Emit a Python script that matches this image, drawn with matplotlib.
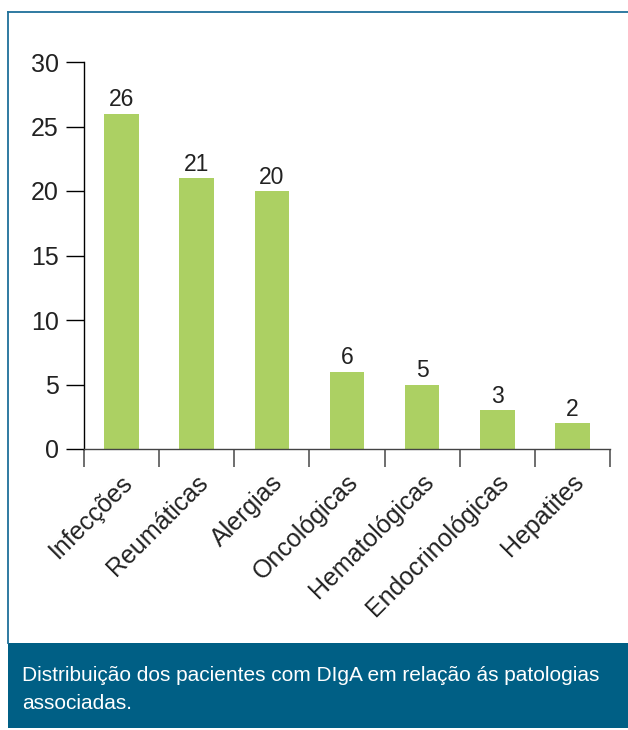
import matplotlib
matplotlib.use('Agg')

import matplotlib.pyplot as plt
import matplotlib.transforms as mtransforms
from matplotlib.patches import Rectangle
import numpy as np

categories = ['Infecções', 'Reumáticas', 'Alergias', 'Oncológicas',
              'Hematológicas', 'Endocrinológicas', 'Hepatites']
values = [26, 21, 20, 6, 5, 3, 2]
yticks = [0, 5, 10, 15, 20, 25, 30]
caption = ('Distribuição dos pacientes com DIgA em relação ás patologias\n'
           'associadas.')

bar_color = '#acd063'
frame_color = '#1f709a'
box_color = '#005f85'

plt.rcParams['font.family'] = ['Liberation Sans', 'DejaVu Sans']

W, H = 628, 730
fig = plt.figure(figsize=(W / 100, H / 100), dpi=100)

# outer frame (top and left edges) and caption box
fig.add_artist(plt.Line2D([8 / W, 8 / W], [1 - 643 / H, 1 - 12 / H],
                          color=frame_color, lw=1.3))
fig.add_artist(plt.Line2D([8 / W, 1], [1 - 12 / H, 1 - 12 / H],
                          color=frame_color, lw=1.3))
fig.add_artist(Rectangle((8 / W, 1 - 728 / H), 1 - 8 / W, 85 / H,
                         transform=fig.transFigure, color=box_color, lw=0))
fig.text(22 / W, 1 - 666 / H, caption, color='white', fontsize=15,
         va='top', ha='left', linespacing=1.6)

ax = fig.add_axes([84 / W, 1 - 449 / H, 526 / W, 387 / H])
x = np.arange(len(categories))
ax.bar(x, values, width=0.46, color=bar_color)

for xi, v in zip(x, values):
    ax.annotate(str(v), (xi, v), xytext=(0, 1.8), textcoords='offset points',
                ha='center', va='bottom', fontsize=16.5, color='#222222')

ax.set_xlim(-0.5, len(categories) - 0.5)
ax.set_ylim(0, 30)
ax.set_yticks(yticks)
ax.tick_params(axis='y', length=13, width=1, pad=5, labelsize=18,
               labelcolor='#222222')

# category boundaries as tick marks, labels placed at bar centres
ax.set_xticks(np.arange(len(categories) + 1) - 0.5)
ax.set_xticklabels([])
ax.tick_params(axis='x', length=13, width=1.2, color='#555555')
offset = mtransforms.ScaledTranslation(-1 / 100, -21 / 100, fig.dpi_scale_trans)
for xi, name in zip(x, categories):
    ax.text(xi, 0, name, transform=ax.transData + offset, rotation=45,
            rotation_mode='anchor', ha='right', va='top', fontsize=18,
            color='#222222')

for side in ['top', 'right']:
    ax.spines[side].set_visible(False)
ax.spines['left'].set_linewidth(1)
ax.spines['bottom'].set_linewidth(1)
ax.spines['bottom'].set_color('#444444')

fig.savefig('out.png', dpi=100)
